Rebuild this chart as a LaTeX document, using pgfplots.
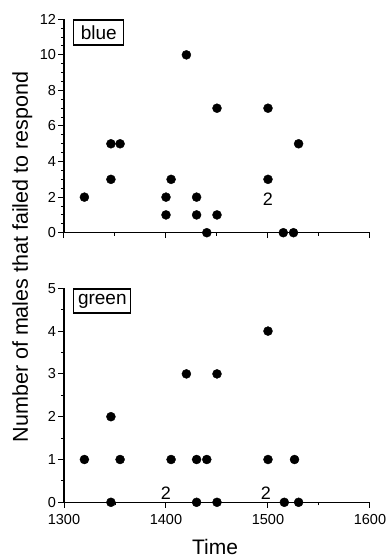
\documentclass[border=0pt]{standalone}
\usepackage{fontspec}
\setmainfont{Liberation Sans}
\usepackage{pgfplots}
\pgfplotsset{compat=1.18}
\pgfplotsset{
  panel/.style={
    scale only axis,
    width=306pt,
    anchor=south west,
    xmin=1300, xmax=1600,
    axis lines*=left,
    axis line style={line width=1.1pt},
    every tick/.style={line width=1pt, black},
    tick align=outside,
    major tick length=5.5pt,
    minor tick length=3pt,
    xtick={1300,1400,1500,1600},
    minor xtick={1350,1450,1550},
    /pgf/number format/assume math mode=true,
    /pgf/number format/1000 sep={},
    tick label style={font=\fontsize{14.5}{14.5}\selectfont},
    yticklabel style={xshift=1pt},
    xticklabel style={yshift=-3pt},
    clip=false,
  },
  dots/.style={only marks, mark=*, mark size=4.5pt, black, mark options={fill=black}},
}
\begin{document}
\begin{tikzpicture}
\useasboundingbox (0,0) rectangle (387pt,558pt);
% top panel: blue
\begin{axis}[panel, at={(64pt,325.3pt)}, height=213.4pt,
  ymin=0, ymax=12, ytick={0,2,...,12}, minor y tick num=3,
  xticklabels={}]
\addplot[dots] coordinates {
(1320,2) (1346,3) (1346,5) (1355,5) (1400,2) (1400,1) (1405,3) (1420,10)
(1430,2) (1430,1) (1440,0) (1450,7) (1450,1) (1500,7) (1500,3)
(1515,0) (1525,0) (1530,5)
};
\node[font=\fontsize{18}{18}\selectfont] at (axis cs:1500,1.875) {2};
\node[draw, line width=1.3pt, anchor=north west, inner xsep=4pt, minimum height=25pt, minimum width=50pt,
  font=\fontsize{19}{19}\selectfont] at (rel axis cs:0.03,1) {blue};
\end{axis}
% bottom panel: green
\begin{axis}[panel, at={(64pt,55.7pt)}, height=214pt,
  ymin=0, ymax=5, ytick={0,1,...,5}, minor y tick num=1]
\addplot[dots] coordinates {
(1320,1) (1346,2) (1346,0) (1355,1) (1405,1) (1420,3) (1430,1) (1430,0)
(1440,1) (1450,3) (1450,0) (1500,4) (1500,1) (1516,0) (1526,1) (1530,0)
};
\node[font=\fontsize{18}{18}\selectfont] at (axis cs:1400,0.21) {2};
\node[font=\fontsize{18}{18}\selectfont] at (axis cs:1498,0.21) {2};
\node[draw, line width=1.3pt, anchor=north west, inner xsep=4pt, minimum height=24pt, minimum width=57pt,
  font=\fontsize{19}{19}\selectfont] at (rel axis cs:0.03,1) {green};
\end{axis}
\node[anchor=base, rotate=90, font=\fontsize{21.5}{21.5}\selectfont] at (28pt,301pt) {Number of males that failed to respond};
\node[anchor=base, font=\fontsize{21}{21}\selectfont] at (215pt,3.5pt) {Time};
\end{tikzpicture}
\end{document}
